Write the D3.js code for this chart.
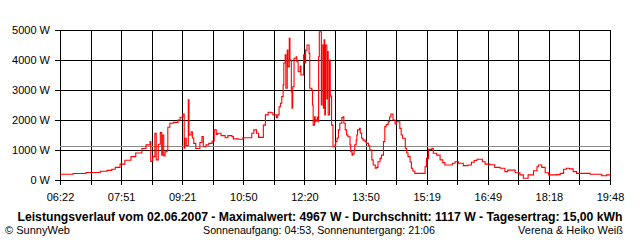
<!DOCTYPE html>
<html>
<head>
<meta charset="utf-8">
<script src="https://cdn.jsdelivr.net/npm/d3@7"></script>
<style>
  body { margin: 0; background: #fff; }
  svg { display: block; }
  text { font-family: "Liberation Sans", Arial, sans-serif; }
</style>
</head>
<body>
<svg id="chart"></svg>
<script>
// minutes since midnight
const minutes = [382, 401, 420, 441, 451, 458, 463, 470, 477, 486, 493, 502, 508, 514, 515, 518, 521, 523, 526, 529,
  531, 532, 534, 536, 539, 540, 543, 548, 555, 558, 562, 564, 565, 567, 570, 571, 574, 576, 578, 581,
  584, 587, 590, 592, 596, 600, 605, 608, 611, 613, 618, 624, 628, 634, 636, 643, 650, 659, 663, 666,
  670, 673, 677, 680, 683, 687, 691, 694, 699, 701, 703, 705, 707, 709, 710, 712, 713, 715, 716, 718,
  719, 721, 722, 723, 725, 728, 729, 731, 734, 735, 738, 739, 741, 742, 744, 747, 748, 751, 752, 753,
  755, 756, 757, 759, 760, 761, 762, 764, 765, 766, 768, 769, 770, 771, 773, 774, 775, 777, 778, 779,
  780, 782, 785, 786, 788, 790, 792, 795, 797, 798, 800, 802, 804, 807, 808, 810, 811, 813, 814, 816,
  817, 818, 821, 822, 824, 826, 829, 831, 834, 836, 839, 841, 844, 846, 848, 851, 853, 856, 858, 860,
  863, 865, 867, 868, 870, 873, 875, 878, 880, 882, 884, 888, 890, 892, 895, 897, 899, 902, 914, 917,
  919, 922, 927, 929, 934, 939, 943, 946, 954, 957, 961, 966, 973, 980, 985, 989, 993, 997, 1001, 1005,
  1012, 1019, 1027, 1034, 1038, 1041, 1049, 1056, 1061, 1068, 1076, 1081, 1083, 1088, 1093, 1098, 1110, 1115, 1120, 1124,
  1129, 1134, 1139, 1151, 1159, 1169, 1176, 1183, 1188];
const watts = [190, 215, 250, 290, 320, 360, 420, 530, 660, 780, 900, 1050, 1170, 1280, 620, 780, 1560, 670, 1190, 1580,
  830, 1500, 800, 940, 1000, 1760, 1890, 1920, 2000, 2090, 2200, 1060, 1390, 1150, 2670, 1500, 1610, 1400, 1220, 1050,
  1050, 1250, 1450, 1110, 1170, 1220, 1300, 1670, 1520, 1560, 1480, 1410, 1480, 1450, 1370, 1360, 1410, 1410, 1560, 1670,
  1560, 1420, 1420, 1830, 2170, 2260, 2240, 2170, 2080, 2170, 2440, 2560, 2780, 3170, 3900, 4170, 3060, 4330, 3780, 4720,
  4000, 2940, 2390, 3110, 4060, 4110, 3940, 3610, 3800, 3500, 3500, 4170, 3900, 4330, 4500, 4220, 3060, 3000, 2500, 1830,
  2110, 1940, 2000, 2100, 1940, 4110, 4940, 4940, 2500, 4500, 2390, 4670, 2170, 4500, 2700, 4280, 2170, 4000, 2830, 2780,
  1830, 1110, 1170, 1280, 1400, 1670, 1890, 2080, 2110, 1890, 1670, 1500, 1440, 1170, 940, 830, 870, 1000, 1170, 1330,
  1500, 1670, 1720, 1560, 1390, 1330, 1280, 1220, 1140, 1000, 670, 500, 390, 420, 610, 720, 830, 1280, 1780, 1850,
  1940, 2100, 2200, 2200, 2000, 1870, 1940, 1940, 1720, 1500, 1390, 1060, 900, 780, 600, 390, 300, 220, 220, 440,
  720, 1020, 1060, 890, 830, 670, 580, 500, 500, 560, 610, 560, 480, 500, 590, 650, 690, 690, 610, 530,
  510, 420, 390, 280, 330, 330, 240, 170, 60, 170, 310, 440, 500, 420, 240, 170, 180, 220, 360, 390,
  370, 280, 220, 220, 190, 190, 140, 170, 190];

const yTicks = [0, 1000, 2000, 3000, 4000, 5000];
const xTickLabels = ["06:22", "07:51", "09:21", "10:50", "12:20", "13:50", "15:19", "16:49", "18:18", "19:48"];
const average = 1117;

const title = "Leistungsverlauf vom 02.06.2007 - Maximalwert: 4967 W - Durchschnitt: 1117 W - Tagesertrag: 15,00 kWh";
const footLeft = "\u00A9 SunnyWeb";
const footMid = "Sonnenaufgang: 04:53, Sonnenuntergang: 21:06";
const footRight = "Verena & Heiko Wei\u00DF";

const W = 640, H = 240;
const plot = { left: 60, right: 610, top: 30, bottom: 180 };

const svg = d3.select('#chart').attr('width', W).attr('height', H);

const x = d3.scaleLinear().domain([minutes[0], minutes[minutes.length - 1]]).range([plot.left, plot.right]);
const y = d3.scaleLinear().domain([0, 5000]).range([plot.bottom, plot.top]);

// one grid line each half step between the labelled times
const nSteps = (xTickLabels.length - 1) * 2;
const xTicks = d3.range(nSteps + 1).map(i => x.domain()[0] + i * (x.domain()[1] - x.domain()[0]) / nSteps);

// horizontal grid + y labels
const gy = svg.append('g')
    .attr('transform', 'translate(' + (plot.left - 5) + ',0)')
    .call(d3.axisLeft(y).tickValues(yTicks).tickSizeInner(-(plot.right - plot.left + 5)).tickSizeOuter(0)
        .tickPadding(5).tickFormat(d => d + ' W'));
gy.select('.domain').remove();
gy.selectAll('line').attr('stroke', '#000').attr('shape-rendering', 'crispEdges');
gy.selectAll('text').attr('font-size', 11).attr('fill', '#000');

// vertical grid + x labels
const gx = svg.append('g')
    .attr('transform', 'translate(0,' + (plot.bottom + 5) + ')')
    .call(d3.axisBottom(x).tickValues(xTicks).tickSizeInner(-(plot.bottom - plot.top + 5)).tickSizeOuter(0)
        .tickPadding(8).tickFormat((d, i) => i % 2 === 0 ? xTickLabels[i / 2] : ''));
gx.select('.domain').remove();
gx.selectAll('line').attr('stroke', '#000').attr('shape-rendering', 'crispEdges');
gx.selectAll('text').attr('font-size', 11).attr('fill', '#000');

// average line
svg.append('line')
    .attr('x1', plot.left).attr('x2', plot.right)
    .attr('y1', Math.round(y(average)) + 0.5).attr('y2', Math.round(y(average)) + 0.5)
    .attr('stroke', '#8c8c8c').attr('stroke-width', 1.2);

// power curve
const line = d3.line()
    .x((d, i) => x(minutes[i]))
    .y(d => y(d))
    .curve(d3.curveStepAfter);
svg.append('path')
    .attr('d', line(watts))
    .attr('fill', 'none')
    .attr('stroke', '#ff0000')
    .attr('stroke-width', 1.1);

// footer texts
svg.append('text')
    .attr('x', 320).attr('y', 221)
    .attr('text-anchor', 'middle')
    .attr('font-size', 12).attr('font-weight', 'bold')
    .attr('textLength', 605).attr('lengthAdjust', 'spacingAndGlyphs')
    .text(title);
svg.append('text')
    .attr('x', 5).attr('y', 234)
    .attr('font-size', 11)
    .attr('textLength', 65).attr('lengthAdjust', 'spacingAndGlyphs')
    .text(footLeft);
svg.append('text')
    .attr('x', 203).attr('y', 234)
    .attr('font-size', 11)
    .attr('textLength', 232).attr('lengthAdjust', 'spacingAndGlyphs')
    .text(footMid);
svg.append('text')
    .attr('x', 623).attr('y', 234)
    .attr('text-anchor', 'end')
    .attr('font-size', 11)
    .text(footRight);
</script>
</body>
</html>
